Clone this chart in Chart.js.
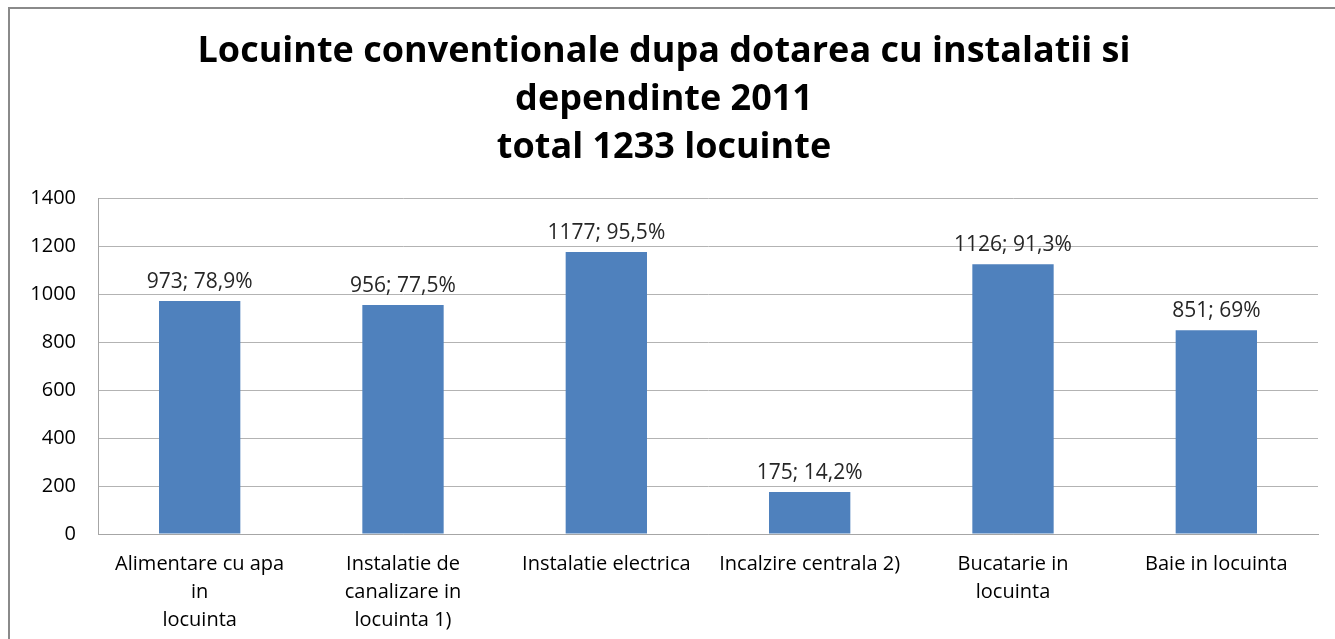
<!DOCTYPE html>
<html>
<head>
<meta charset="utf-8">
<script src="https://cdn.jsdelivr.net/npm/chart.js@4"></script>
<style>
  html, body { margin: 0; padding: 0; background: #fff; overflow: hidden; }
  #frame {
    position: absolute; left: 8px; top: 7px;
    width: 1340px; height: 650px;
    border: 2px solid #8a8a8a; box-sizing: border-box;
  }
  #box { position: absolute; left: 0; top: 0; width: 1325px; height: 630px; }
</style>
</head>
<body>
<div id="frame"><div id="box"><canvas id="chart"></canvas></div></div>
<script>
// categorii si valori
const categories = [
  ['Alimentare cu apa', 'in', 'locuinta'],
  ['Instalatie de', 'canalizare in', 'locuinta 1)'],
  'Instalatie electrica',
  'Incalzire centrala 2)',
  ['Bucatarie in', 'locuinta'],
  'Baie in locuinta'
];
const locuinte = [973, 956, 1177, 175, 1126, 851];
const procente = [78.9, 77.5, 95.5, 14.2, 91.3, 69];
const yTicks = [0, 200, 400, 600, 800, 1000, 1200, 1400];

// eticheta deasupra fiecarei coloane
const valueLabels = {
  id: 'valueLabels',
  afterDatasetsDraw(chart) {
    const ctx = chart.ctx;
    const meta = chart.getDatasetMeta(0);
    ctx.save();
    ctx.font = '21px "Open Sans"';
    ctx.fillStyle = '#262626';
    ctx.textAlign = 'center';
    ctx.textBaseline = 'middle';
    meta.data.forEach(function(bar, i) {
      const txt = locuinte[i] + '; ' + String(procente[i]).replace('.', ',') + '%';
      ctx.fillText(txt, bar.x, bar.y - 19);
    });
    ctx.restore();
  }
};

const ctx = document.getElementById('chart').getContext('2d');
new Chart(ctx, {
  type: 'bar',
  data: {
    labels: categories,
    datasets: [{
      data: locuinte,
      backgroundColor: '#4f81bd',
      barPercentage: 0.4,
      categoryPercentage: 1
    }]
  },
  plugins: [valueLabels],
  options: {
    responsive: true,
    maintainAspectRatio: false,
    animation: false,
    layout: { padding: { left: 0, right: 17, top: 0, bottom: 0 } },
    plugins: {
      legend: { display: false },
      tooltip: { enabled: false },
      title: {
        display: true,
        text: ['Locuinte conventionale dupa dotarea cu instalatii si', 'dependinte 2011', 'total 1233 locuinte'],
        color: '#000',
        font: { family: '"Open Sans"', size: 36, weight: 'bold', lineHeight: 1.33 },
        padding: { top: 19, bottom: 27 }
      }
    },
    scales: {
      x: {
        grid: { display: false, drawTicks: false },
        border: { color: '#a6a6a6', width: 1 },
        ticks: {
          color: '#000',
          font: { family: '"Open Sans"', size: 20, lineHeight: 1.4 },
          padding: 16,
          maxRotation: 0,
          autoSkip: false
        },
        afterFit(scale) { scale.height = 105; }
      },
      y: {
        min: 0,
        max: 1400,
        afterBuildTicks(scale) { scale.ticks = yTicks.map(v => ({ value: v })); },
        grid: { color: '#b3b3b3', drawTicks: false },
        border: { color: '#a6a6a6', width: 1 },
        ticks: {
          color: '#000',
          font: { family: '"Open Sans"', size: 20 },
          padding: 22,
          callback: function(v) { return String(v); }
        },
        afterFit(scale) { scale.width = 88; }
      }
    }
  }
});
</script>
</body>
</html>
